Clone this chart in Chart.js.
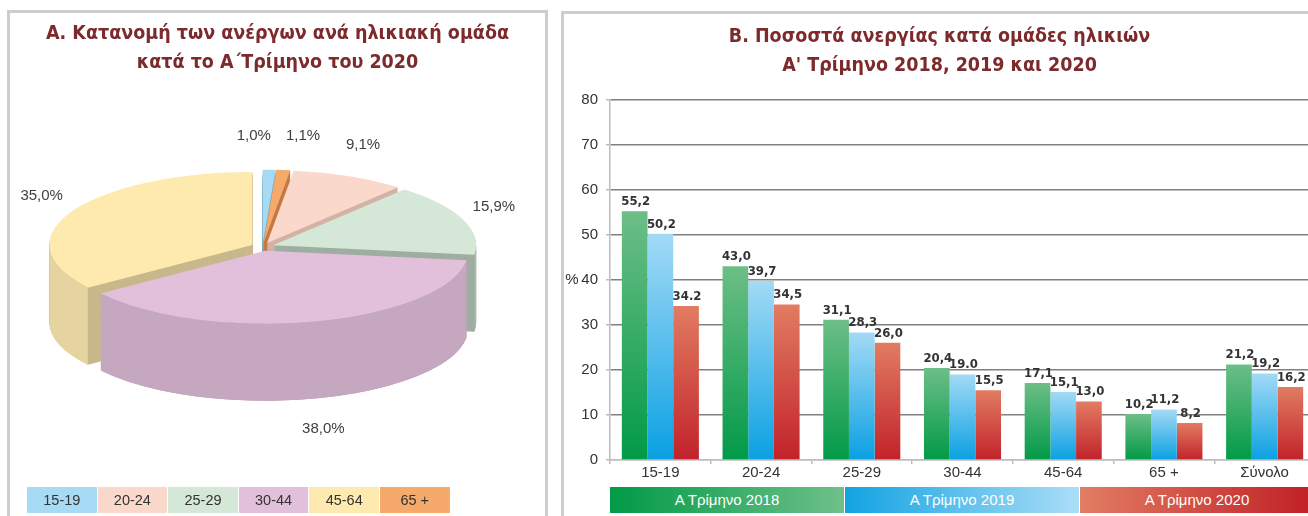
<!DOCTYPE html>
<html><head><meta charset="utf-8">
<script src="https://cdn.jsdelivr.net/npm/chart.js@4.4.1/dist/chart.umd.min.js"></script>
<style>
html,body{margin:0;padding:0;background:#fff;width:1308px;height:516px;overflow:hidden;font-family:'Liberation Sans',Arial,sans-serif;}
.panel{position:absolute;border:3px solid #cdcdcd;border-bottom:none;box-sizing:border-box;}
#pA{left:7px;top:10px;width:541px;height:520px;}
#pB{left:561px;top:11px;width:790px;height:520px;}
#cA{position:absolute;left:10px;top:13px;}
#cB{position:absolute;left:564px;top:14px;}
.leg{position:absolute;display:flex;}
.leg div{box-sizing:border-box;text-align:center;}
#legA{left:27px;top:487px;height:26px;}
#legA div{width:69.6px;margin-right:1px;height:26px;line-height:26px;font-size:14.5px;color:#333;}
#legB{top:487px;height:26px;}
#legB div{height:26px;line-height:26px;font-size:15px;color:#fff;border-right:1px solid #fff;}
</style></head>
<body>
<div class="panel" id="pA"></div>
<div class="panel" id="pB"></div>
<canvas id="cA" width="535" height="503"></canvas>
<canvas id="cB" width="760" height="502"></canvas>
<div class="leg" id="legA"></div>
<div class="leg" id="legB"></div>
<script>
// ---------- DATA ----------
const ageGroups = ['15-19', '20-24', '25-29', '30-44', '45-64', '65 +'];
const shares2020 = [1.0, 9.1, 15.9, 38.0, 35.0, 1.1];          // % of unemployed, Q1 2020
const pieOrder = [0, 5, 1, 2, 3, 4];                             // clockwise order of slices from 12 o'clock

const barCategories = ['15-19', '20-24', '25-29', '30-44', '45-64', '65 +', 'Σύνολο'];
const seriesNames = ['Α Τρίμηνο 2018', 'Α Τρίμηνο 2019', 'Α Τρίμηνο 2020'];
const rate2018 = [55.2, 43.0, 31.1, 20.4, 17.1, 10.2, 21.2];
const rate2019 = [50.2, 39.7, 28.3, 19.0, 15.1, 11.2, 19.2];
const rate2020 = [34.2, 34.5, 26.0, 15.5, 13.0, 8.2, 16.2];
const label2018 = ['55,2', '43,0', '31,1', '20,4', '17,1', '10,2', '21,2'];
const label2019 = ['50,2', '39,7', '28,3', '19.0', '15,1', '11,2', '19,2'];
const label2020 = ['34.2', '34,5', '26,0', '15,5', '13,0', '8,2', '16,2'];
const yTicks = [0, 10, 20, 30, 40, 50, 60, 70, 80];

// ---------- STYLES ----------
const titleColor = '#7d2a2c';
const titleFont = "'Liberation Sans Narrow','DejaVu Sans Condensed','Roboto Condensed',sans-serif";
const baseFont = "'Liberation Sans',Arial,sans-serif";
const ageTop  = ['#a7dbf5', '#fad9cc', '#d5e8d7', '#e2c0dc', '#fee9ae', '#f5a96b'];
const ageSide = ['#86bfda', '#dfbdaf', '#a9b9ab', '#c5a7bf', '#e5d3a0', '#d98a4f'];
const ageCut  = ['#79aec6', '#d3b3a6', '#9faea1', '#b698b0', '#c8b88b', '#c47a44'];
const barBottom = ['#019a47', '#0aa0e2', '#c2222a'];
const barTopCol = ['#6dbe87', '#a3daf6', '#e17c62'];
const legGrad = ['linear-gradient(to right,#019a47,#6fc08a)', 'linear-gradient(to right,#13a3e2,#abdef7)', 'linear-gradient(to right,#e17d63,#c01f25)'];

const fmtPct = v => v.toFixed(1).replace('.', ',') + '%';

// ---------- PIE (3D) ----------
const pieLabels = pieOrder.map(i => ageGroups[i]);
const pieValues = pieOrder.map(i => shares2020[i]);

const pie3d = {
  id: 'pie3d',
  afterDatasetsDraw(chart, args, o) {
    const ctx = chart.ctx, meta = chart.getDatasetMeta(0), ca = chart.chartArea;
    const cx = (ca.left + ca.right) / 2 + o.dx, cy = (ca.top + ca.bottom) / 2 + o.dy;
    const rx = o.rx, ry = o.ry, depth = o.depth, ex = o.explode, ey = o.explode * ry / rx;
    const arcs = meta.data.map((el, k) => {
      const p = el.getProps(['startAngle', 'endAngle'], true);
      const m = (p.startAngle + p.endAngle) / 2;
      const gi = pieOrder[k];
      return { gi, a0: p.startAngle, a1: p.endAngle, m, x: cx + Math.cos(m) * ex, y: cy + Math.sin(m) * ey, v: chart.data.datasets[0].data[k] };
    });
    const path = (a, dy) => {
      ctx.beginPath(); ctx.moveTo(a.x, a.y + dy);
      ctx.ellipse(a.x, a.y + dy, rx, ry, 0, a.a0, a.a1); ctx.closePath();
    };
    ctx.save();
    for (let d = depth; d > 0; d--) {
      arcs.forEach(a => { path(a, d); ctx.fillStyle = ageCut[a.gi]; ctx.fill(); });
    }
    arcs.forEach(a => {
      const s = Math.max(a.a0, 0), e = Math.min(a.a1, Math.PI);
      if (e <= s) return;
      ctx.beginPath();
      ctx.ellipse(a.x, a.y, rx, ry, 0, s, e);
      ctx.lineTo(a.x + rx * Math.cos(e), a.y + ry * Math.sin(e) + depth);
      ctx.ellipse(a.x, a.y + depth, rx, ry, 0, e, s, true);
      ctx.closePath();
      ctx.fillStyle = ageSide[a.gi]; ctx.fill();
    });
    arcs.forEach(a => { path(a, 0); ctx.fillStyle = ageTop[a.gi]; ctx.fill(); });
    // labels
    ctx.font = '15px ' + baseFont;
    ctx.fillStyle = '#404040'; ctx.textAlign = 'center'; ctx.textBaseline = 'middle';
    const labs = arcs.map(a => {
      const c = Math.cos(a.m), s = Math.sin(a.m);
      const t = fmtPct(a.v);
      return { t, w: ctx.measureText(t).width, x: cx + c * (rx + o.labelDx), y: cy + s * (ry + o.labelDy) + Math.max(0, s) * depth };
    });
    for (let it = 0; it < 20; it++) {
      for (let i = 0; i < labs.length; i++) for (let j = i + 1; j < labs.length; j++) {
        const A = labs[i], B = labs[j];
        const need = (A.w + B.w) / 2 + 14;
        if (Math.abs(A.y - B.y) < 18 && Math.abs(A.x - B.x) < need) {
          const push = (need - Math.abs(A.x - B.x)) / 2 + 0.5;
          if (A.x <= B.x) { A.x -= push; B.x += push; } else { A.x += push; B.x -= push; }
        }
      }
    }
    labs.forEach(l => ctx.fillText(l.t, l.x, l.y));
    ctx.restore();
  }
};

new Chart(document.getElementById('cA'), {
  type: 'pie',
  data: { labels: pieLabels, datasets: [{ data: pieValues, backgroundColor: 'rgba(0,0,0,0)', borderWidth: 0, hoverOffset: 0 }] },
  options: {
    responsive: false, animation: false, events: [],
    plugins: {
      legend: { display: false }, tooltip: { enabled: false },
      title: { display: true, text: ['Α. Κατανομή των ανέργων ανά ηλικιακή ομάδα', 'κατά το Α΄Τρίμηνο του 2020'],
        color: titleColor, font: { family: titleFont, size: 19.5, weight: 'bold', lineHeight: 1.5 }, padding: { top: 6, bottom: 10 } },
      pie3d: { rx: 203, ry: 73, depth: 77, explode: 11.4, dx: -15, dy: -55, labelDx: 45, labelDy: 38 }
    }
  },
  plugins: [pie3d]
});

// legend A
const legA = document.getElementById('legA');
ageGroups.forEach((g, i) => {
  const d = document.createElement('div'); d.textContent = g; d.style.background = ageTop[i]; legA.appendChild(d);
});

// ---------- BARS ----------
const barValues = [rate2018, rate2019, rate2020];
const barLabels = [label2018, label2019, label2020];

function barGradient(k) {
  return (c) => {
    const chart = c.chart, ca = chart.chartArea;
    if (!ca || c.type !== 'data' || !chart.scales.y) return barBottom[k];
    const y0 = chart.scales.y.getPixelForValue(0), y1 = chart.scales.y.getPixelForValue(c.parsed.y);
    if (!isFinite(y0) || !isFinite(y1) || y0 === y1) return barBottom[k];
    const g = chart.ctx.createLinearGradient(0, y0, 0, y1);
    g.addColorStop(0, barBottom[k]); g.addColorStop(1, barTopCol[k]);
    return g;
  };
}

const valueLabels = {
  id: 'valueLabels',
  afterDatasetsDraw(chart) {
    const ctx = chart.ctx;
    ctx.save();
    ctx.font = 'bold 13px ' + titleFont;
    ctx.fillStyle = '#333'; ctx.textAlign = 'center'; ctx.textBaseline = 'bottom';
    chart.data.datasets.forEach((ds, k) => {
      chart.getDatasetMeta(k).data.forEach((bar, i) => {
        ctx.fillText(barLabels[k][i], bar.x + 1, bar.y - 3);
      });
    });
    ctx.restore();
  }
};
const percentLabel = {
  id: 'percentLabel',
  afterDraw(chart) {
    const ctx = chart.ctx, ca = chart.chartArea;
    ctx.save();
    ctx.font = '15px ' + baseFont; ctx.fillStyle = '#333';
    ctx.textAlign = 'center'; ctx.textBaseline = 'middle';
    ctx.fillText('%', 8, (ca.top + ca.bottom) / 2);
    ctx.restore();
  }
};

const barChart = new Chart(document.getElementById('cB'), {
  type: 'bar',
  data: {
    labels: barCategories,
    datasets: seriesNames.map((n, k) => ({ label: n, data: barValues[k], backgroundColor: barGradient(k), borderWidth: 0 }))
  },
  options: {
    responsive: false, animation: false, events: [],
    layout: { padding: { left: 0, right: 9, top: 0, bottom: 0 } },
    datasets: { bar: { categoryPercentage: 0.765, barPercentage: 1 } },
    scales: {
      x: {
        grid: { offset: true, drawOnChartArea: false, tickLength: 4, color: '#bdbdbd', tickColor: '#bdbdbd', lineWidth: 1.5 },
        border: { color: '#bdbdbd', width: 1.5 },
        ticks: { color: '#333', font: { family: baseFont, size: 15 }, padding: 0 },
        afterFit: s => { s.height = 56; }
      },
      y: {
        min: yTicks[0], max: yTicks[yTicks.length - 1],
        ticks: { stepSize: yTicks[1] - yTicks[0], color: '#333', font: { family: baseFont, size: 15 }, padding: 8 },
        grid: { color: c => (c.tick && c.tick.value === 0) ? '#bdbdbd' : '#808080', lineWidth: 1.5, tickLength: 4, tickColor: '#bdbdbd' },
        border: { color: '#bdbdbd', width: 1.5 },
        afterFit: s => { s.width = 46; }
      }
    },
    plugins: {
      legend: { display: false }, tooltip: { enabled: false },
      title: { display: true, text: ['Β. Ποσοστά ανεργίας κατά ομάδες ηλικιών', 'Α\' Τρίμηνο 2018, 2019 και 2020'],
        color: titleColor, font: { family: titleFont, size: 19.5, weight: 'bold', lineHeight: 1.5 }, padding: { top: 8, bottom: 19 } }
    }
  },
  plugins: [valueLabels, percentLabel]
});

// legend B, spanning the plot area
const legB = document.getElementById('legB');
const caB = barChart.chartArea;
legB.style.left = (564 + caB.left) + 'px';
const wB = (caB.right - caB.left) / seriesNames.length;
seriesNames.forEach((n, k) => {
  const d = document.createElement('div'); d.textContent = n; d.style.width = wB + 'px'; d.style.background = legGrad[k]; legB.appendChild(d);
});
</script>
</body></html>
